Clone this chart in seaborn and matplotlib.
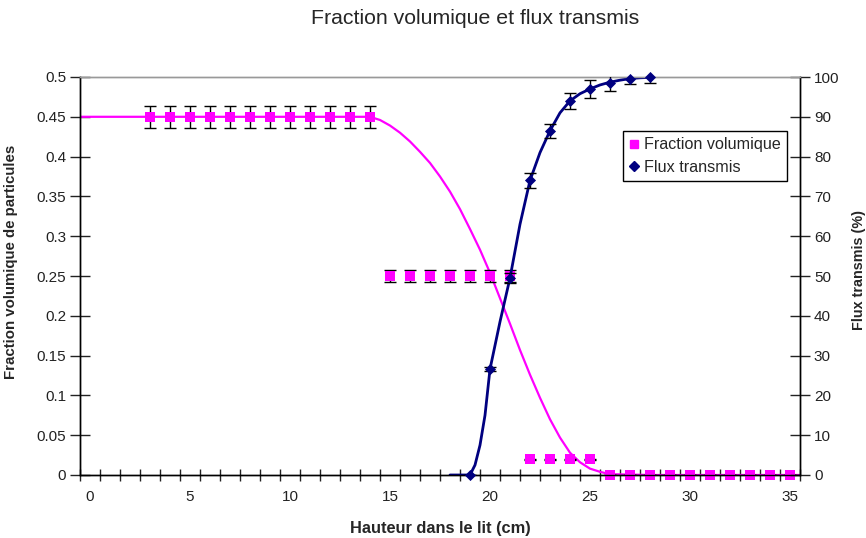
import matplotlib
matplotlib.use("Agg")
import matplotlib.pyplot as plt
from matplotlib.lines import Line2D
from matplotlib.ticker import FixedLocator, FuncFormatter
import seaborn as sns
import pandas as pd

# ---- data ----
frac_h = [3, 4, 5, 6, 7, 8, 9, 10, 11, 12, 13, 14,
          15, 16, 17, 18, 19, 20, 21,
          22, 23, 24, 25,
          26, 27, 28, 29, 30, 31, 32, 33, 34, 35]
frac_val = [0.45] * 12 + [0.25] * 7 + [0.02] * 4 + [0.0] * 10
frac_err = [0.0135] * 12 + [0.0075] * 7 + [0.0006] * 4 + [0.0] * 10

flux_h = [19, 20, 21, 22, 23, 24, 25, 26, 27, 28]
flux_val = [0.0, 26.6, 49.5, 74.0, 86.5, 94.0, 97.0, 98.5, 99.6, 99.9]
flux_err = [0.0, 0.5, 1.3, 1.8, 1.8, 2.0, 2.2, 2.1, 1.3, 1.3]

curve_frac_h = [-0.5, 0, 2, 4, 6, 8, 10, 12, 14, 14.5, 15, 15.5, 16, 16.5, 17, 17.5,
                18, 18.5, 19, 19.5, 20, 20.5, 21, 21.5, 22, 22.5, 23, 23.5, 24,
                24.5, 25, 25.5, 26, 28, 30, 32, 34, 35.5]
curve_frac_val = [0.45, 0.45, 0.45, 0.45, 0.45, 0.45, 0.45, 0.45, 0.45, 0.446, 0.439, 0.430,
                  0.419, 0.406, 0.392, 0.375, 0.356, 0.334, 0.309, 0.283, 0.254, 0.222,
                  0.19, 0.157, 0.126, 0.097, 0.070, 0.047, 0.028, 0.016, 0.008, 0.004,
                  0.001, 0.0, 0.0, 0.0, 0.0, 0.0]

curve_flux_h = [18, 18.5, 19, 19.25, 19.5, 19.75, 20, 20.5, 21, 21.5, 22, 22.5, 23, 23.5,
                24, 24.5, 25, 25.5, 26, 26.5, 27, 27.5, 28]
curve_flux_val = [0.0, 0.0, 0.0, 2.5, 7.5, 15.0, 26.6, 38.5, 49.5, 63.0, 74.0, 81.0, 86.5,
                  91.0, 94.0, 95.8, 97.0, 98.0, 98.7, 99.2, 99.6, 99.8, 99.9]

xtick_labels = [0, 5, 10, 15, 20, 25, 30, 35]
ytick_left = [0, 0.05, 0.1, 0.15, 0.2, 0.25, 0.3, 0.35, 0.4, 0.45, 0.5]
ytick_right = [0, 10, 20, 30, 40, 50, 60, 70, 80, 90, 100]

PINK = "#FF00FF"
NAVY = "#000080"
TXT = "#222222"

sns.set_theme(style="white")
plt.rcParams["font.family"] = ["Liberation Sans", "DejaVu Sans"]

fig = plt.figure(figsize=(8.66, 5.38), dpi=100)
ax = fig.add_axes([80 / 866, 1 - 475 / 538, 720 / 866, 398 / 538])
ax2 = ax.twinx()

df_fc = pd.DataFrame({"h": curve_frac_h, "v": curve_frac_val})
df_fx = pd.DataFrame({"h": curve_flux_h, "v": curve_flux_val})
df_f = pd.DataFrame({"h": frac_h, "v": frac_val})
df_x = pd.DataFrame({"h": flux_h, "v": flux_val})

# curves
sns.lineplot(data=df_fc, x="h", y="v", ax=ax, color=PINK, lw=1.6, sort=False,
             legend=False, zorder=2)
sns.lineplot(data=df_fx, x="h", y="v", ax=ax2, color=NAVY, lw=2.0, sort=False,
             legend=False, zorder=2)

# error bars
ax.errorbar(frac_h, frac_val, yerr=frac_err, fmt="none", ecolor="black",
            elinewidth=1.0, capsize=4, capthick=1.0, zorder=3)
ax2.errorbar(flux_h, flux_val, yerr=flux_err, fmt="none", ecolor="black",
             elinewidth=1.0, capsize=4, capthick=1.0, zorder=3)

# markers
sns.scatterplot(data=df_f, x="h", y="v", ax=ax, marker="s", s=45, color=PINK,
                edgecolor=PINK, linewidth=0, legend=False, zorder=4, clip_on=False)
sns.scatterplot(data=df_x, x="h", y="v", ax=ax2, marker="D", s=32, color=NAVY,
                edgecolor=NAVY, linewidth=0, legend=False, zorder=4, clip_on=False)

# axes limits and ticks
ax.set_xlim(-0.5, 35.5)
ax.set_ylim(0, 0.5)
ax2.set_ylim(0, 100)

ax.xaxis.set_major_locator(FixedLocator(xtick_labels))
ax.xaxis.set_minor_locator(FixedLocator([i - 0.5 for i in range(37)]))
ax.set_xticklabels([str(v) for v in xtick_labels])
ax.tick_params(axis="x", which="major", length=0, pad=11, labelsize=11, colors=TXT)
ax.tick_params(axis="x", which="minor", length=9, width=1, direction="inout",
               color=TXT, bottom=True)

ax.set_yticks(ytick_left)
ax.yaxis.set_major_formatter(FuncFormatter(lambda v, p: ("%g" % round(v, 2))))
ax.tick_params(axis="y", which="major", length=14, width=1, direction="inout",
               labelsize=11, pad=3, left=True, colors=TXT)
ax2.set_yticks(ytick_right)
ax2.tick_params(axis="y", which="major", length=14, width=1, direction="inout",
                labelsize=11, pad=3, right=True, colors=TXT)

for a in (ax, ax2):
    for s in ("left", "right", "bottom"):
        a.spines[s].set_color("black")
        a.spines[s].set_linewidth(1.0)
    a.spines["top"].set_color("#999999")
    a.spines["top"].set_linewidth(1.0)
ax.grid(False)
ax2.grid(False)

ax.set_xlabel("Hauteur dans le lit (cm)", fontsize=11.8, fontweight="bold")
ax.xaxis.set_label_coords(0.501, -0.115)
ax.set_ylabel("Fraction volumique de particules", fontsize=10.8, fontweight="bold")
ax.yaxis.set_label_coords(-0.086, 0.535)
ax2.set_ylabel("Flux transmis (%)", fontsize=10.4, fontweight="bold")
ax2.yaxis.set_label_coords(1.0725, 0.515)

fig.text(475 / 866, 1 - 18 / 538, "Fraction volumique et flux transmis",
         ha="center", va="center", fontsize=15.3)

handles = [
    Line2D([], [], marker="s", color=PINK, linestyle="none", markersize=6),
    Line2D([], [], marker="D", color=NAVY, linestyle="none", markersize=5),
]
leg = ax2.legend(handles, ["Fraction volumique", "Flux transmis"],
                 loc="upper left", bbox_to_anchor=((623 - 80) / 720, (475 - 131) / 398),
                 frameon=True, fancybox=False, framealpha=1, edgecolor="black",
                 fontsize=11.6, handlelength=0.6, handletextpad=0.3, borderpad=0.4,
                 labelspacing=0.45, borderaxespad=0)
leg.get_frame().set_linewidth(1.0)

fig.savefig("out.png", dpi=100)
